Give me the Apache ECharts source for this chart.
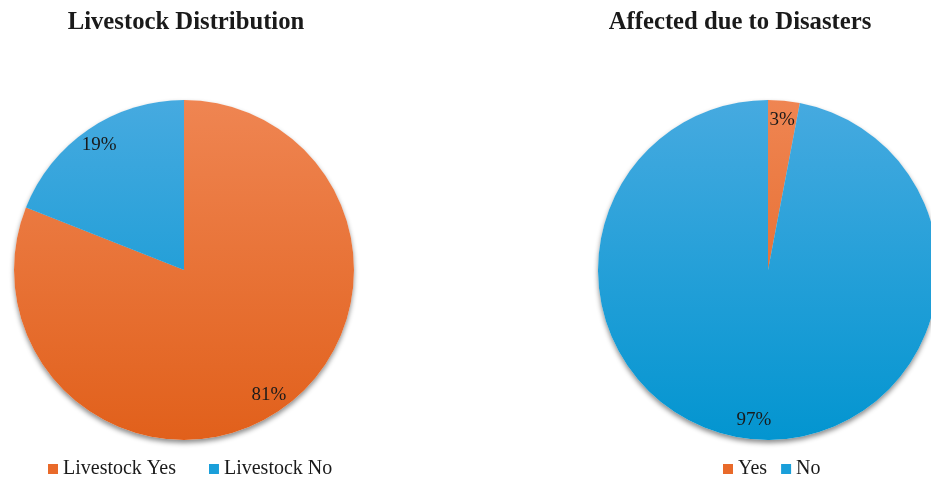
<!DOCTYPE html>
<html>
<head>
<meta charset="utf-8">
<script src="https://cdn.jsdelivr.net/npm/echarts@6/dist/echarts.min.js"></script>
<style>
  html, body { margin: 0; padding: 0; background: #ffffff; }
  #chart { width: 931px; height: 479px; }
</style>
</head>
<body>
<div id="chart"></div>
<script>
// Chart data
const livestockTitle = 'Livestock Distribution';
const livestockCategories = ['Livestock Yes', 'Livestock No'];
const livestockValues = [81, 19];

const disasterTitle = 'Affected due to Disasters';
const disasterCategories = ['Yes', 'No'];
const disasterValues = [3, 97];

// Layout and style
const R = 170;
const CY = 270;
const leftCX = 184;
const rightCX = 768;
const serif = '"Liberation Serif", "Times New Roman", serif';
const textColor = '#1a1a1a';

const palette = [
  { top: '#EF8552', bottom: '#E1601B', solid: '#E96A2A' },
  { top: '#46AAE0', bottom: '#0395D0', solid: '#1A9FDA' }
];

function gradient(i) {
  const p = palette[i];
  return new echarts.graphic.LinearGradient(0, CY - R, 0, CY + R, [
    { offset: 0, color: p.top },
    { offset: 1, color: p.bottom }
  ], true);
}

function toData(cats, vals, withColor) {
  return cats.map((name, i) => {
    const d = { name: name, value: vals[i] };
    if (withColor) d.itemStyle = { color: gradient(i) };
    return d;
  });
}

function pieGroup(cats, vals, cx) {
  const center = [cx, CY];
  return [
    // colored slices
    {
      type: 'pie', z: 2, center: center, radius: [0, R],
      startAngle: 90, clockwise: true, animation: false,
      label: { show: false }, labelLine: { show: false },
      emphasis: { disabled: true },
      data: toData(cats, vals, true)
    },
    // soft shadow underneath the disc
    {
      type: 'pie', z: 1, silent: true, center: center, radius: [0, R],
      startAngle: 90, clockwise: true, animation: false,
      label: { show: false }, labelLine: { show: false },
      itemStyle: {
        color: '#ffffff',
        shadowBlur: 5, shadowOffsetX: 0, shadowOffsetY: 3,
        shadowColor: 'rgba(0,0,0,0.45)'
      },
      data: toData(cats, vals, false)
    },
    // percentage labels near the rim
    {
      type: 'pie', z: 3, silent: true, center: center, radius: [R - 44, R],
      startAngle: 90, clockwise: true, animation: false,
      itemStyle: { color: 'rgba(0,0,0,0)' },
      labelLine: { show: false },
      label: {
        show: true, position: 'inside',
        formatter: '{c}%',
        fontFamily: serif, fontSize: 19, color: textColor
      },
      data: toData(cats, vals, false)
    }
  ];
}

function legendData(cats) {
  return cats.map((name, i) => ({
    name: name,
    icon: 'rect',
    itemStyle: { color: palette[i].solid }
  }));
}

const chart = echarts.init(document.getElementById('chart'), null, { renderer: 'canvas' });

chart.setOption({
  backgroundColor: '#ffffff',
  animation: false,
  title: [
    {
      text: livestockTitle, left: 181, top: 5, textAlign: 'center',
      textStyle: { fontFamily: serif, fontSize: 24.7, fontWeight: 'bold', color: textColor }
    },
    {
      text: disasterTitle, left: 735, top: 5, textAlign: 'center',
      textStyle: { fontFamily: serif, fontSize: 24.7, fontWeight: 'bold', color: textColor }
    }
  ],
  legend: [
    {
      data: legendData(livestockCategories),
      left: 48, top: 459, padding: 0, itemWidth: 10, itemHeight: 10, itemGap: 33,
      selectedMode: false,
      textStyle: { fontFamily: serif, fontSize: 20, color: textColor }
    },
    {
      data: legendData(disasterCategories),
      left: 723, top: 459, padding: 0, itemWidth: 10, itemHeight: 10, itemGap: 14,
      selectedMode: false,
      textStyle: { fontFamily: serif, fontSize: 20, color: textColor }
    }
  ],
  series: [
    ...pieGroup(livestockCategories, livestockValues, leftCX),
    ...pieGroup(disasterCategories, disasterValues, rightCX)
  ]
});
</script>
</body>
</html>
